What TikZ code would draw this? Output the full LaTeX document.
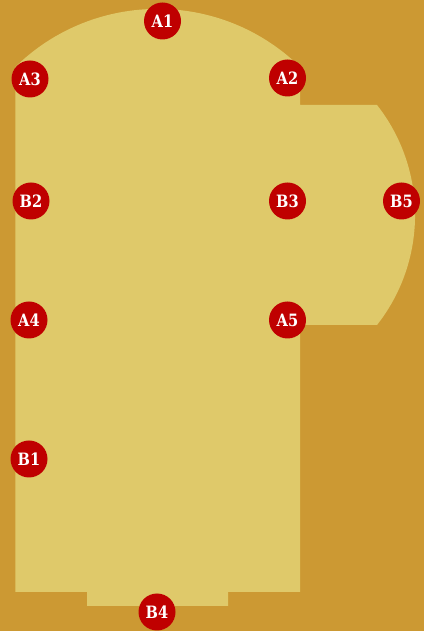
\documentclass[tikz,border=0pt]{standalone}
\usepackage{fontspec}
\newfontfamily\pinfont{DejaVu Serif Bold}[FakeStretch=0.86]
\definecolor{bgc}{HTML}{CC9933}
\definecolor{roomc}{HTML}{DFC96A}
\definecolor{pinc}{HTML}{BF0000}
\tikzset{
  pin dot/.style={circle,fill=pinc,draw=none,minimum size=37pt,inner sep=0pt,text=white,font=\fontsize{17pt}{20pt}\pinfont},
}
\begin{document}
\begin{tikzpicture}[x=1pt,y=1pt]
\path[use as bounding box,fill=bgc] (0,0) rectangle (424,631);
\path[fill=roomc] (15.3,564) arc[start angle=134.4,end angle=45.6,radius=203.5]
  -- (300,526) -- (377,526) arc[start angle=38.16,end angle=-38.16,radius=178.04]
  -- (300,306) -- (300,39) -- (228,39) -- (228,25) -- (87,25) -- (87,39) -- (15.3,39) -- cycle;
\node[pin dot] (a1) at (162.5,610) {A1};
\node[pin dot] (a2) at (287.5,553) {A2};
\node[pin dot] (a3) at (30,552) {A3};
\node[pin dot] (a4) at (29,311) {A4};
\node[pin dot] (a5) at (287.5,311) {A5};
\node[pin dot] (b1) at (29,172) {B1};
\node[pin dot] (b2) at (31,430) {B2};
\node[pin dot] (b3) at (287.5,430) {B3};
\node[pin dot] (b4) at (157,19) {B4};
\node[pin dot] (b5) at (401.5,430) {B5};
\end{tikzpicture}
\end{document}
